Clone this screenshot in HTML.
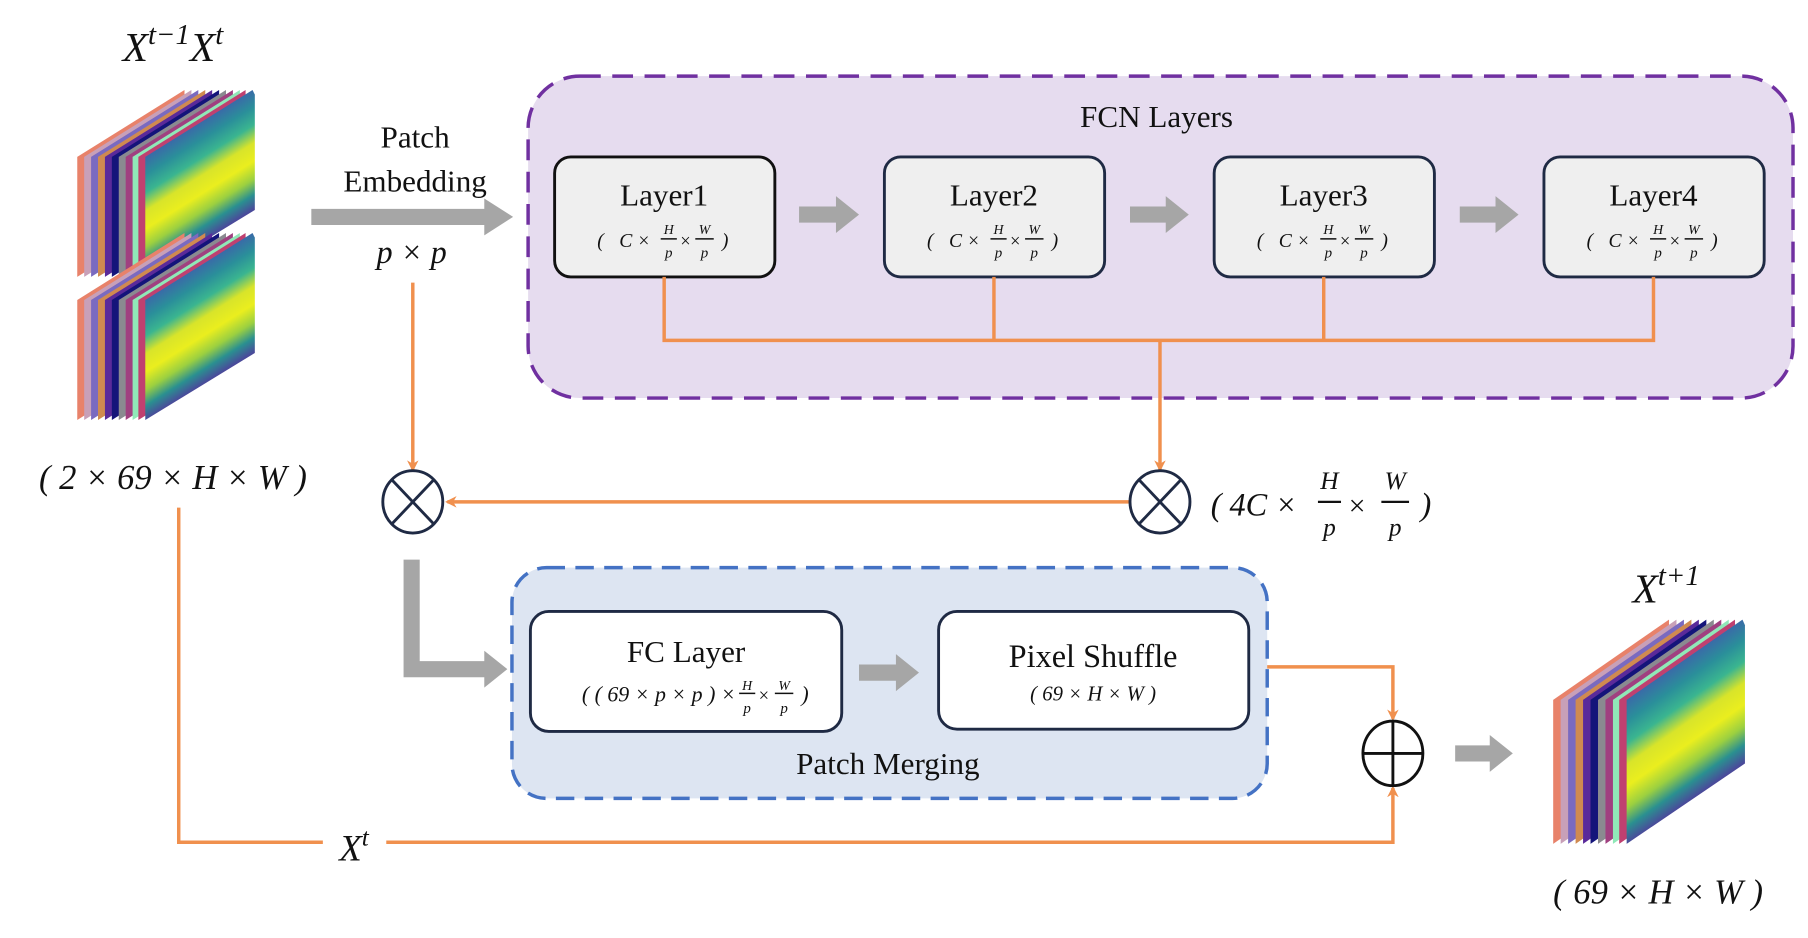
<!DOCTYPE html>
<html><head><meta charset="utf-8"><style>
html,body{margin:0;padding:0;background:#fff;}
svg{display:block;}
text{font-family:"Liberation Serif",serif;fill:#111;}
.it{font-style:italic;}
</style></head><body>
<svg width="1808" height="938" viewBox="0 0 1568 813" preserveAspectRatio="none" xmlns="http://www.w3.org/2000/svg">
<defs>
<linearGradient id="face" gradientUnits="userSpaceOnUse" x1="105" y1="29" x2="152" y2="104">
<stop offset="0" stop-color="#3a6aa8"/><stop offset="0.15" stop-color="#2a8f9a"/><stop offset="0.3" stop-color="#3ab590"/><stop offset="0.45" stop-color="#d8e42a"/><stop offset="0.6" stop-color="#eaee1e"/><stop offset="0.75" stop-color="#9cd040"/><stop offset="0.88" stop-color="#2a9090"/><stop offset="1" stop-color="#4a4a9a"/>
</linearGradient>
<marker id="oa" markerWidth="10" markerHeight="10" refX="8" refY="5" orient="auto" markerUnits="userSpaceOnUse"><path d="M0,0 L10,5 L0,10 L3,5 Z" fill="#f0904e"/></marker>
<g id="stack">
<polygon points="0,58 93,0 93,104 0,162" fill="#e8826a"/>
<polygon points="6,58 99,0 99,104 6,162" fill="#c8a0b8"/>
<polygon points="12,58 105,0 105,104 12,162" fill="#7a6ac0"/>
<polygon points="18,58 111,0 111,104 18,162" fill="#d08a50"/>
<polygon points="24,58 117,0 117,104 24,162" fill="#5a2a9a"/>
<polygon points="30,58 123,0 123,104 30,162" fill="#14147a"/>
<polygon points="36,58 129,0 129,104 36,162" fill="#8a8a90"/>
<polygon points="42,58 135,0 135,104 42,162" fill="#a04080"/>
<polygon points="48,58 141,0 141,104 48,162" fill="#90e8b8"/>
<polygon points="53,58 146,0 146,104 53,162" fill="#c04070"/>
<polygon points="59,58 152,0 154,4 154,104 59,162" fill="url(#face)"/>
</g>
</defs>

<text x="150" y="53" text-anchor="middle" font-size="36" class="it">X<tspan dy="-15" font-size="25">t−1</tspan><tspan dy="15">X</tspan><tspan dy="-15" font-size="25">t</tspan></text>
<use href="#stack" transform="translate(67,78)"/>
<use href="#stack" transform="translate(67,202)"/>
<text x="150" y="424" text-anchor="middle" font-size="30" class="it">( 2 × 69 × H × W )</text>

<text x="360" y="128" text-anchor="middle" font-size="27">Patch</text>
<text x="360" y="166" text-anchor="middle" font-size="27">Embedding</text>
<polygon points="270,181 420,181 420,172 445,188 420,204 420,195 270,195" fill="#a6a6a6"/>
<text x="357" y="228" text-anchor="middle" font-size="28" class="it">p × p</text>

<rect x="458" y="66" width="1097" height="279" rx="45" fill="#e6dcef" stroke="#7030a0" stroke-width="3" stroke-dasharray="18,10"/>
<text x="1003" y="110" text-anchor="middle" font-size="27">FCN Layers</text>

<g transform="translate(481,136)">
<rect x="0" y="0" width="191" height="104" rx="14" fill="#efefef" stroke="#111" stroke-width="2.5"/>
<text x="95" y="42" text-anchor="middle" font-size="27">Layer1</text>
</g>
<g transform="translate(767,136)"><rect x="0" y="0" width="191" height="104" rx="14" fill="#efefef" stroke="#1f2a44" stroke-width="2.5"/><text x="95" y="42" text-anchor="middle" font-size="27">Layer2</text></g>
<g transform="translate(1053,136)"><rect x="0" y="0" width="191" height="104" rx="14" fill="#efefef" stroke="#1f2a44" stroke-width="2.5"/><text x="95" y="42" text-anchor="middle" font-size="27">Layer3</text></g>
<g transform="translate(1339,136)"><rect x="0" y="0" width="191" height="104" rx="14" fill="#efefef" stroke="#1f2a44" stroke-width="2.5"/><text x="95" y="42" text-anchor="middle" font-size="27">Layer4</text></g>

<g id="form">
<text x="518" y="214" class="it" font-size="17">(</text>
<text x="537" y="214" class="it" font-size="17">C ×</text>
<text x="580" y="203" text-anchor="middle" class="it" font-size="12">H</text>
<line x1="573" y1="207" x2="587" y2="207" stroke="#111" stroke-width="1.3"/>
<text x="580" y="223" text-anchor="middle" class="it" font-size="13">p</text>
<text x="589" y="214" class="it" font-size="16">×</text>
<text x="611" y="203" text-anchor="middle" class="it" font-size="12">W</text>
<line x1="603" y1="207" x2="619" y2="207" stroke="#111" stroke-width="1.3"/>
<text x="611" y="223" text-anchor="middle" class="it" font-size="13">p</text>
<text x="626" y="214" class="it" font-size="17">)</text>
</g>
<use href="#form" transform="translate(286,0)"/>
<use href="#form" transform="translate(572,0)"/>
<use href="#form" transform="translate(858,0)"/>

<g fill="#a6a6a6">
<polygon points="693,179 725,179 725,170 745,186 725,202 725,193 693,193"/>
<polygon points="980,179 1011,179 1011,170 1031,186 1011,202 1011,193 980,193"/>
<polygon points="1266,179 1297,179 1297,170 1317,186 1297,202 1297,193 1266,193"/>
</g>

<g stroke="#f0904e" stroke-width="3" fill="none">
<polyline points="576,240 576,295 1434,295 1434,240"/>
<line x1="862" y1="240" x2="862" y2="295"/>
<line x1="1148" y1="240" x2="1148" y2="295"/>
<line x1="1006" y1="295" x2="1006" y2="407" marker-end="url(#oa)"/>
<line x1="358" y1="245" x2="358" y2="407" marker-end="url(#oa)"/>
<line x1="980" y1="435" x2="388" y2="435" marker-end="url(#oa)"/>
<polyline points="155,440 155,730 280,730"/>
<polyline points="335,730 1208,730 1208,683" marker-end="url(#oa)"/>
<polyline points="1083,578 1208,578 1208,623" marker-end="url(#oa)"/>
</g>

<g stroke="#1f2a44" stroke-width="2.5" fill="#fff">
<ellipse cx="358" cy="435" rx="26" ry="27"/>
<line x1="340" y1="416" x2="376" y2="454"/><line x1="376" y1="416" x2="340" y2="454"/>
<ellipse cx="1006" cy="435" rx="26" ry="27"/>
<line x1="988" y1="416" x2="1024" y2="454"/><line x1="1024" y1="416" x2="988" y2="454"/>
</g>
<g stroke="#111" stroke-width="2.5" fill="#fff">
<ellipse cx="1208" cy="653" rx="26" ry="28"/>
<line x1="1182" y1="653" x2="1234" y2="653"/><line x1="1208" y1="625" x2="1208" y2="681"/>
</g>

<text x="1050" y="447" font-size="28" class="it">( 4C ×</text>
<text x="1153" y="424" text-anchor="middle" font-size="22" class="it">H</text>
<line x1="1143" y1="435" x2="1163" y2="435" stroke="#111" stroke-width="2"/>
<text x="1153" y="464" text-anchor="middle" font-size="22" class="it">p</text>
<text x="1168" y="447" font-size="26" class="it">×</text>
<text x="1210" y="424" text-anchor="middle" font-size="22" class="it">W</text>
<line x1="1198" y1="435" x2="1222" y2="435" stroke="#111" stroke-width="2"/>
<text x="1210" y="464" text-anchor="middle" font-size="22" class="it">p</text>
<text x="1232" y="447" font-size="28" class="it">)</text>

<polygon points="350,485 364,485 364,573 420,573 420,564 440,580 420,596 420,587 350,587" fill="#a6a6a6"/>

<rect x="444" y="492" width="655" height="200" rx="30" fill="#dde5f2" stroke="#4472c4" stroke-width="3" stroke-dasharray="16,9"/>
<rect x="460" y="530" width="270" height="104" rx="16" fill="#fff" stroke="#1f2a44" stroke-width="2.5"/>
<text x="595" y="574" text-anchor="middle" font-size="27">FC Layer</text>
<text x="638" y="608" text-anchor="end" font-size="19" class="it">( ( 69 × p × p ) ×</text>
<text x="648" y="598" text-anchor="middle" font-size="12" class="it">H</text>
<line x1="641" y1="601" x2="655" y2="601" stroke="#111" stroke-width="1.3"/>
<text x="648" y="618" text-anchor="middle" font-size="13" class="it">p</text>
<text x="657" y="608" font-size="16" class="it">×</text>
<text x="680" y="598" text-anchor="middle" font-size="12" class="it">W</text>
<line x1="672" y1="601" x2="688" y2="601" stroke="#111" stroke-width="1.3"/>
<text x="680" y="618" text-anchor="middle" font-size="13" class="it">p</text>
<text x="695" y="608" font-size="19" class="it">)</text>
<polygon points="745,576 777,576 777,567 797,583 777,599 777,590 745,590" fill="#a6a6a6"/>
<rect x="814" y="530" width="269" height="102" rx="16" fill="#fff" stroke="#1f2a44" stroke-width="2.5"/>
<text x="948" y="578" text-anchor="middle" font-size="28">Pixel Shuffle</text>
<text x="948" y="607" text-anchor="middle" font-size="18" class="it">( 69 × H × W )</text>
<text x="770" y="671" text-anchor="middle" font-size="27">Patch Merging</text>

<text x="307" y="746" text-anchor="middle" font-size="32" class="it">X<tspan dy="-13" font-size="22">t</tspan></text>

<polygon points="1262,646 1292,646 1292,637 1312,653 1292,669 1292,660 1262,660" fill="#a6a6a6"/>
<text x="1445" y="522" text-anchor="middle" font-size="36" class="it">X<tspan dy="-15" font-size="25">t+1</tspan></text>
<use href="#stack" transform="translate(1347,537) scale(1.08,1.2)"/>
<text x="1438" y="783" text-anchor="middle" font-size="30" class="it">( 69 × H × W )</text>
</svg>
</body></html>
